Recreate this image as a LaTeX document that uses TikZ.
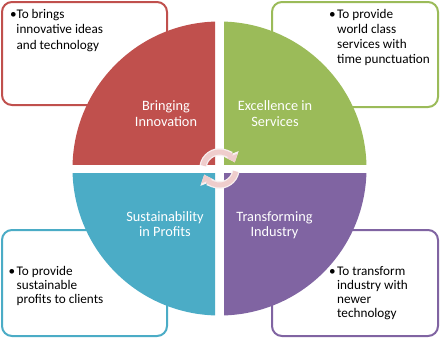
\documentclass[tikz,border=0pt]{standalone}
\usepackage{fontspec}
\setmainfont{Carlito}
\usetikzlibrary{arrows.meta}
\definecolor{qred}{HTML}{C0504D}
\definecolor{qgreen}{HTML}{9BBB59}
\definecolor{qblue}{HTML}{4BACC6}
\definecolor{qpurple}{HTML}{8064A2}
\definecolor{arrpink}{HTML}{EFCDCC}
\definecolor{arredge}{HTML}{F8F0F0}
\newcommand{\bulcell}[1]{\makebox[#1][l]{\textbullet}}
\begin{document}
\begin{tikzpicture}[x=1pt,y=-1pt,
  infobox/.style={draw=#1, line width=2pt, rounded corners=10pt, fill=white, inner sep=0pt},
  infotext/.style={anchor=base west, inner sep=0pt, text=black, font={\fontsize{13.2}{#1}\selectfont}},
  quadlabel/.style={anchor=base, inner sep=0pt, text=white, font={\fontsize{14.3}{15.5}\selectfont}},
  arrout/.style={draw=arredge, line width=7.5pt, -{Triangle[length=9pt,width=15pt]}},
  arrin/.style={draw=arrpink, line width=5pt, -{Triangle[length=7pt,width=11.5pt]}}
]
\useasboundingbox (0,0) rectangle (440,338);
\fill[white] (0,0) rectangle (440,338);

% info boxes
\node[infobox=qred, minimum width=165pt, minimum height=103pt] (boxTL) at (84.5,53.5) {};
\node[infobox=qgreen, minimum width=166pt, minimum height=105pt] (boxTR) at (355,54.5) {};
\node[infobox=qblue, minimum width=165pt, minimum height=106pt] (boxBL) at (84.5,283) {};
\node[infobox=qpurple, minimum width=166pt, minimum height=106pt] (boxBR) at (355,283) {};

\node[infotext=15.3] (txtTL) at (10,18.5) {\begin{tabular}[t]{@{}l@{}l@{}}\bulcell{6.3pt} & To brings\\ & innovative ideas\\ & and technology\end{tabular}};
\node[infotext=15] (txtTR) at (329,18.5) {\begin{tabular}[t]{@{}l@{}l@{}}\bulcell{8pt} & To provide\\ & world class\\ & services with\\ & time punctuation\end{tabular}};
\node[infotext=14.2] (txtBL) at (8.5,275) {\begin{tabular}[t]{@{}l@{}l@{}}\bulcell{8pt} & To provide\\ & sustainable\\ & profits to clients\end{tabular}};
\node[infotext=14] (txtBR) at (329,275) {\begin{tabular}[t]{@{}l@{}l@{}}\bulcell{8pt} & To transform\\ & industry with\\ & newer\\ & technology\end{tabular}};

% quadrants
\coordinate (c) at (219.5,168.5);
\begin{scope}
  \clip (0,0) rectangle (215,164);
  \fill[qred] (c) circle[radius=147];
\end{scope}
\begin{scope}
  \clip (224,0) rectangle (440,164);
  \fill[qgreen] (c) circle[radius=147];
\end{scope}
\begin{scope}
  \clip (0,173) rectangle (215,338);
  \fill[qblue] (c) circle[radius=147];
\end{scope}
\begin{scope}
  \clip (224,173) rectangle (440,338);
  \fill[qpurple] (c) circle[radius=147];
\end{scope}

% quadrant labels
\node[quadlabel] (lblTL) at (166,110.7) {\begin{tabular}[t]{@{}c@{}}Bringing\\Innovation\end{tabular}};
\node[quadlabel] (lblTR) at (275,110.7) {\begin{tabular}[t]{@{}c@{}}Excellence in\\Services\end{tabular}};
\node[quadlabel] (lblBL) at (165,221) {\begin{tabular}[t]{@{}c@{}}Sustainability\\in Profits\end{tabular}};
\node[quadlabel] (lblBR) at (274.5,221) {\begin{tabular}[t]{@{}c@{}}Transforming\\Industry\end{tabular}};

% circular arrows
\path[arrout] ([shift={(190:16.5)}]c) arc[start angle=190, end angle=338, radius=16.5];
\path[arrin] ([shift={(190:16.5)}]c) arc[start angle=190, end angle=338, radius=16.5];
\path[arrout] ([shift={(10:16.5)}]c) arc[start angle=10, end angle=158, radius=16.5];
\path[arrin] ([shift={(10:16.5)}]c) arc[start angle=10, end angle=158, radius=16.5];
\end{tikzpicture}
\end{document}
